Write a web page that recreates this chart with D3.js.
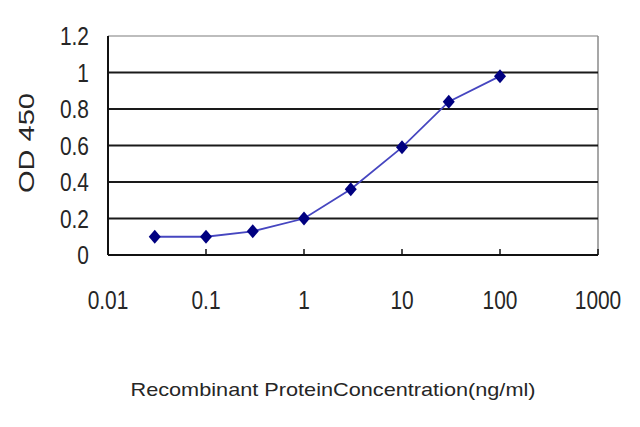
<!DOCTYPE html>
<html>
<head>
  <script src="https://d3js.org/d3.v7.min.js"></script>
  <style>
    body { margin: 0; background: #fff; }
    text { font-family: "Liberation Sans", Arial, sans-serif; fill: #262626; }
  </style>
</head>
<body>
  <svg id="chart"></svg>
  <script>
    var concentrations = [0.03, 0.1, 0.3, 1, 3, 10, 30, 100];
    var odValues = [0.10, 0.10, 0.13, 0.20, 0.36, 0.59, 0.84, 0.98];
    var xTicks = [0.01, 0.1, 1, 10, 100, 1000];
    var xTickLabels = ["0.01", "0.1", "1", "10", "100", "1000"];
    var yTicks = [0, 0.2, 0.4, 0.6, 0.8, 1, 1.2];
    var yTickLabels = ["0", "0.2", "0.4", "0.6", "0.8", "1", "1.2"];

    var width = 640;
    var height = 427;
    // plot box edges
    var plotLeft = 108, plotRight = 598, plotTop = 36, plotBottom = 255;

    var svg = d3.select("#chart")
                .attr("width", width)
                .attr("height", height);

    var xScale = d3.scaleLog()
                  .domain([0.01, 1000])
                  .range([plotLeft, plotRight]);
    var yScale = d3.scaleLinear()
                  .domain([0, 1.2])
                  .range([plotBottom, plotTop]);

    // plot frame (top and right are light)
    svg.append("line")
       .attr("x1", plotLeft).attr("x2", plotRight)
       .attr("y1", plotTop).attr("y2", plotTop)
       .attr("stroke", "#bdbdbd").attr("stroke-width", 2);
    svg.append("line")
       .attr("x1", plotRight).attr("x2", plotRight)
       .attr("y1", plotTop).attr("y2", plotBottom)
       .attr("stroke", "#8a8a8a").attr("stroke-width", 1.5);

    // gridlines
    svg.selectAll(".grid")
       .data(yTicks.filter(function(d) { return d > 0 && d < 1.2; }))
       .enter().append("line")
       .attr("class", "grid")
       .attr("x1", plotLeft).attr("x2", plotRight)
       .attr("y1", function(d) { return yScale(d); })
       .attr("y2", function(d) { return yScale(d); })
       .attr("stroke", "#1a1a1a").attr("stroke-width", 2.2);

    // axes
    svg.append("line")
       .attr("x1", plotLeft).attr("x2", plotLeft)
       .attr("y1", plotTop).attr("y2", plotBottom)
       .attr("stroke", "#111").attr("stroke-width", 2);
    svg.append("line")
       .attr("x1", plotLeft).attr("x2", plotRight)
       .attr("y1", plotBottom).attr("y2", plotBottom)
       .attr("stroke", "#111").attr("stroke-width", 2.2);

    // x ticks pointing up inside the plot
    svg.selectAll(".xtick")
       .data(xTicks.slice(1))
       .enter().append("line")
       .attr("class", "xtick")
       .attr("x1", function(d) { return xScale(d); })
       .attr("x2", function(d) { return xScale(d); })
       .attr("y1", plotBottom).attr("y2", plotBottom - 6)
       .attr("stroke", "#111").attr("stroke-width", 1.5);

    // labels in the picture look a bit tall and narrow
    svg.selectAll(".xlabel")
       .data(xTicks)
       .enter().append("text")
       .attr("class", "xlabel")
       .attr("transform", function(d) { return "translate(" + xScale(d) + ",309) scale(0.95,1.2)"; })
       .attr("text-anchor", "middle")
       .attr("font-size", 22)
       .text(function(d, i) { return xTickLabels[i]; });

    svg.selectAll(".ylabel")
       .data(yTicks)
       .enter().append("text")
       .attr("class", "ylabel")
       .attr("transform", function(d) { return "translate(89," + (yScale(d) + 9) + ") scale(0.95,1.2)"; })
       .attr("text-anchor", "end")
       .attr("font-size", 22)
       .text(function(d, i) { return yTickLabels[i]; });

    svg.append("text")
       .attr("transform", "translate(34,143) rotate(-90)")
       .attr("text-anchor", "middle")
       .attr("font-size", 22)
       .attr("textLength", 100)
       .attr("lengthAdjust", "spacingAndGlyphs")
       .text("OD 450");

    svg.append("text")
       .attr("x", 333)
       .attr("y", 396)
       .attr("text-anchor", "middle")
       .attr("font-size", 19)
       .attr("textLength", 405)
       .attr("lengthAdjust", "spacingAndGlyphs")
       .text("Recombinant ProteinConcentration(ng/ml)");

    var data = concentrations.map(function(c, i) { return [c, odValues[i]]; });

    var line = d3.line()
                 .x(function(d) { return xScale(d[0]); })
                 .y(function(d) { return yScale(d[1]); });

    svg.append("path")
       .datum(data)
       .attr("d", line)
       .attr("fill", "none")
       .attr("stroke", "#4646c0")
       .attr("stroke-width", 1.8);

    svg.selectAll(".pt")
       .data(data)
       .enter().append("path")
       .attr("class", "pt")
       .attr("transform", function(d) { return "translate(" + xScale(d[0]) + "," + yScale(d[1]) + ")"; })
       .attr("d", "M0,-7L6,0L0,7L-6,0Z")
       .attr("fill", "#000080");
  </script>
</body>
</html>
